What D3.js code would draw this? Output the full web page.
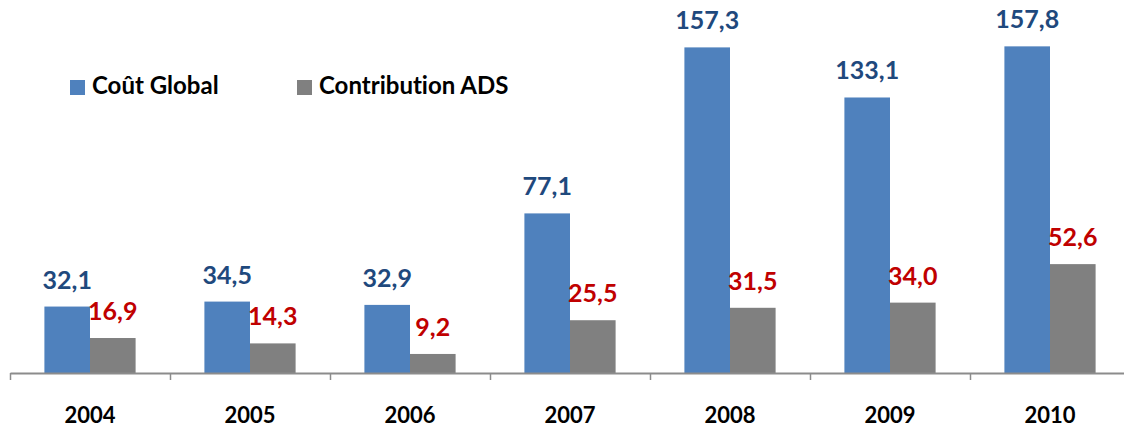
<!DOCTYPE html>
<html>
<head>
<meta charset="utf-8">
<script src="https://cdn.jsdelivr.net/npm/d3@7"></script>
<style>
  body { margin: 0; background: #fff; }
  svg { display: block; font-family: Lato, "Open Sans", sans-serif; font-weight: bold; font-variant-ligatures: none; }
</style>
</head>
<body>
<script>
const years = ['2004', '2005', '2006', '2007', '2008', '2009', '2010'];
const series = ['Coût Global', 'Contribution ADS'];
const coutGlobal = [32.1, 34.5, 32.9, 77.1, 157.3, 133.1, 157.8];
const contributionADS = [16.9, 14.3, 9.2, 25.5, 31.5, 34.0, 52.6];

const width = 1124;
const height = 428;
const base = 373;

const barColor = ['#4f81bd', '#808080'];
const labelColor = ['#1f497d', '#c00000'];

const rows = years.map((y, i) => ({ year: y, values: [coutGlobal[i], contributionADS[i]] }));

const svg = d3.select('body').append('svg').attr('width', width).attr('height', height);

const x = d3.scaleBand().domain(years).range([10, 1130]).paddingInner(0.43).paddingOuter(0.215);
const xs = d3.scaleBand().domain([0, 1]).range([0, x.bandwidth()]);
const y = d3.scaleLinear().domain([0, 180]).range([base, 0.4]);

const fmt = (v) => d3.format('.1f')(v).replace('.', ',');

const groups = svg.append('g')
	.selectAll('g')
	.data(rows)
	.join('g')
	.attr('transform', (d) => `translate(${x(d.year)},0)`);

groups.selectAll('rect')
	.data((d) => d.values)
	.join('rect')
	.attr('x', (d, i) => xs(i))
	.attr('width', xs.bandwidth())
	.attr('y', (d) => y(d))
	.attr('height', (d) => base - y(d))
	.attr('fill', (d, i) => barColor[i]);

groups.selectAll('text')
	.data((d) => d.values)
	.join('text')
	.attr('x', (d, i) => xs(i) + xs.bandwidth() / 2)
	.attr('y', (d) => y(d) - 18)
	.attr('text-anchor', 'middle')
	.attr('font-size', 25)
	.attr('fill', (d, i) => labelColor[i])
	.text((d) => fmt(d));

// axis line with ticks at category boundaries
const xi = d3.scaleLinear().domain([0, 7]).range([10, 1130]);
const axis = svg.append('g')
	.attr('transform', `translate(0,${base})`)
	.call(d3.axisBottom(xi).tickValues(d3.range(0, 7)).tickFormat('').tickSize(7).tickSizeOuter(0));
axis.select('.domain').attr('stroke', '#8c8c8c').attr('stroke-width', 2);
axis.selectAll('.tick line').attr('stroke', '#8c8c8c').attr('stroke-width', 1.5);

// year labels
const yearAxis = svg.append('g')
	.attr('transform', `translate(0,${base})`)
	.call(d3.axisBottom(x).tickSize(0).tickPadding(34));
yearAxis.select('.domain').remove();
yearAxis.selectAll('text')
	.attr('font-family', 'Lato, sans-serif')
	.attr('font-weight', 'bold')
	.attr('font-size', 22)
	.attr('fill', '#000');

// legend
const legendX = [70, 297];
const legend = svg.append('g')
	.selectAll('g')
	.data(series)
	.join('g')
	.attr('transform', (d, i) => `translate(${legendX[i]},80)`);
legend.append('rect').attr('width', 15).attr('height', 15).attr('fill', (d, i) => barColor[i]);
legend.append('text')
	.attr('x', 22)
	.attr('y', 14)
	.attr('font-size', 24)
	.attr('fill', '#000')
	.text((d) => d);
</script>
</body>
</html>
